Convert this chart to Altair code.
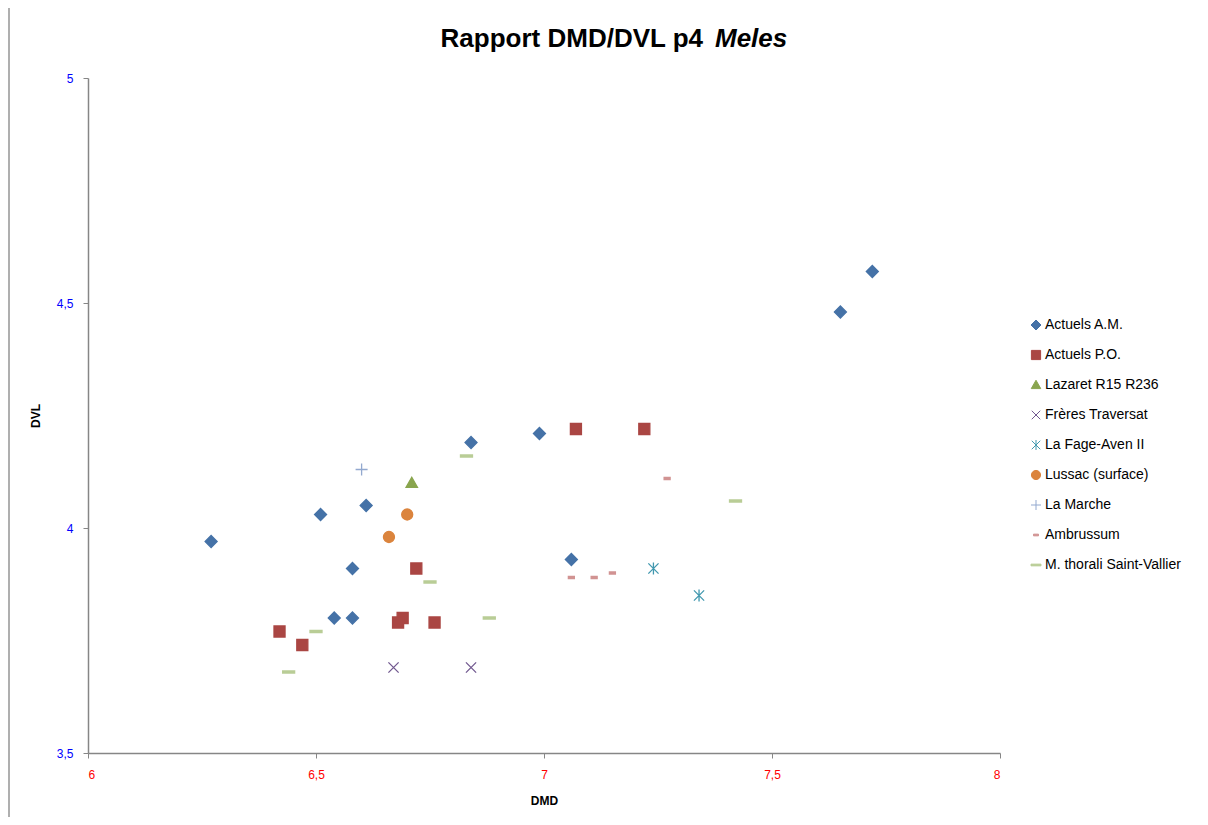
import altair as alt
import pandas as pd

series = ["Actuels A.M.", "Actuels P.O.", "Lazaret R15 R236", "Frères Traversat",
          "La Fage-Aven II", "Lussac (surface)", "La Marche", "Ambrussum",
          "M. thorali Saint-Vallier"]
colors = ["#4572A7", "#AA4643", "#89A54E", "#71588F", "#4198AF", "#DB843D",
          "#93A9CF", "#D19392", "#B9CD96"]
shapes = [
    "M0,-1L1,0L0,1L-1,0Z",
    "M-0.92,-0.92H0.92V0.92H-0.92Z",
    "M0,-0.95L0.95,0.72L-0.95,0.72Z",
    "M-0.85,-0.85L0.85,0.85M-0.85,0.85L0.85,-0.85",
    "M-0.85,-0.85L0.85,0.85M-0.85,0.85L0.85,-0.85M0,-1L0,1",
    "M0.92,0A0.92,0.92 0 1,1 -0.92,0A0.92,0.92 0 1,1 0.92,0Z",
    "M-1,0H1M0,-1V1",
    "M-0.5,-0.17H0.5V0.17H-0.5Z",
    "M-1,-0.17H1V0.17H-1Z",
]

am_dmd = [6.27, 6.51, 6.61, 6.58, 6.54, 6.58, 6.84, 6.99, 7.06, 7.65, 7.72]
am_dvl = [3.97, 4.03, 4.05, 3.91, 3.80, 3.80, 4.19, 4.21, 3.93, 4.48, 4.57]
po_dmd = [6.42, 6.47, 6.69, 6.68, 6.72, 6.76, 7.07, 7.22]
po_dvl = [3.77, 3.74, 3.80, 3.79, 3.91, 3.79, 4.22, 4.22]
laz_dmd = [6.71]
laz_dvl = [4.10]
ft_dmd = [6.67, 6.84]
ft_dvl = [3.69, 3.69]
fage_dmd = [7.24, 7.34]
fage_dvl = [3.91, 3.85]
lus_dmd = [6.66, 6.70]
lus_dvl = [3.98, 4.03]
mar_dmd = [6.60]
mar_dvl = [4.13]
amb_dmd = [7.27, 7.06, 7.11, 7.15]
amb_dvl = [4.11, 3.89, 3.89, 3.90]
thor_dmd = [6.83, 6.75, 6.88, 6.50, 6.44, 7.42]
thor_dvl = [4.16, 3.88, 3.80, 3.77, 3.68, 4.06]

groups = [(am_dmd, am_dvl), (po_dmd, po_dvl), (laz_dmd, laz_dvl), (ft_dmd, ft_dvl),
          (fage_dmd, fage_dvl), (lus_dmd, lus_dvl), (mar_dmd, mar_dvl),
          (amb_dmd, amb_dvl), (thor_dmd, thor_dvl)]
rows = []
for name, (xs, ys) in zip(series, groups):
    for a, b in zip(xs, ys):
        rows.append({"serie": name, "DMD": a, "DVL": b})
df = pd.DataFrame(rows)

font = "Liberation Sans"
comma = "replace(toString(datum.value), '.', ',')"

points = alt.Chart(df).mark_point(filled=True, size=144, strokeWidth=1.3, opacity=1).encode(
    x=alt.X("DMD:Q", scale=alt.Scale(domain=[6, 8], nice=False, zero=False),
            axis=alt.Axis(values=[6, 6.5, 7, 7.5, 8], labelExpr=comma, labelColor="#FF0000",
                          title="DMD", grid=False, labelPadding=11, titlePadding=15)),
    y=alt.Y("DVL:Q", scale=alt.Scale(domain=[3.5, 5], nice=False, zero=False),
            axis=alt.Axis(values=[3.5, 4, 4.5, 5], labelExpr=comma, labelColor="#0000FF",
                          title="DVL", grid=False, labelPadding=10, titlePadding=14)),
    fill=alt.Fill("serie:N", scale=alt.Scale(domain=series, range=colors), title=None,
                  sort=series),
    stroke=alt.Stroke("serie:N", scale=alt.Scale(domain=series, range=colors), title=None,
                      sort=series),
    shape=alt.Shape("serie:N", scale=alt.Scale(domain=series, range=shapes), title=None,
                    sort=series),
)

title_a = alt.Chart(pd.DataFrame({"t": ["Rapport DMD/DVL p4"]})).mark_text(
    font=font, fontSize=26, fontWeight="bold", align="right", baseline="alphabetic",
    color="#000000"
).encode(text="t:N", x=alt.value(615), y=alt.value(-31))

title_b = alt.Chart(pd.DataFrame({"t": ["Meles"]})).mark_text(
    font=font, fontSize=26, fontWeight="bold", fontStyle="italic", align="left",
    baseline="alphabetic", color="#000000"
).encode(text="t:N", x=alt.value(627), y=alt.value(-31))

border = alt.Chart(pd.DataFrame({"a": [0]})).mark_rule(color="#AFAFAF", strokeWidth=2).encode(
    x=alt.value(-79), y=alt.value(-90), y2=alt.value(800)
)

chart = alt.layer(border, points, title_a, title_b).properties(
    width=912, height=675,
    autosize=alt.AutoSizeParams(type="none"),
    padding={"left": 80, "top": 70, "right": 196, "bottom": 64},
).configure_view(stroke=None).configure_axis(
    domainColor="#868686", tickColor="#868686", domainWidth=1.5, tickSize=5,
    labelFont=font, labelFontSize=12, titleFont=font, titleFontSize=12,
    titleFontWeight="bold", titleColor="#000000",
).configure_legend(
    orient="none", legendX=941, legendY=240, symbolSize=100, symbolStrokeWidth=1,
    symbolOpacity=1, labelFont=font, labelFontSize=14, labelColor="#000000",
    rowPadding=16, labelOffset=2, labelLimit=300,
)

chart.save("out.html", embed_options={"renderer": "svg", "actions": False})
